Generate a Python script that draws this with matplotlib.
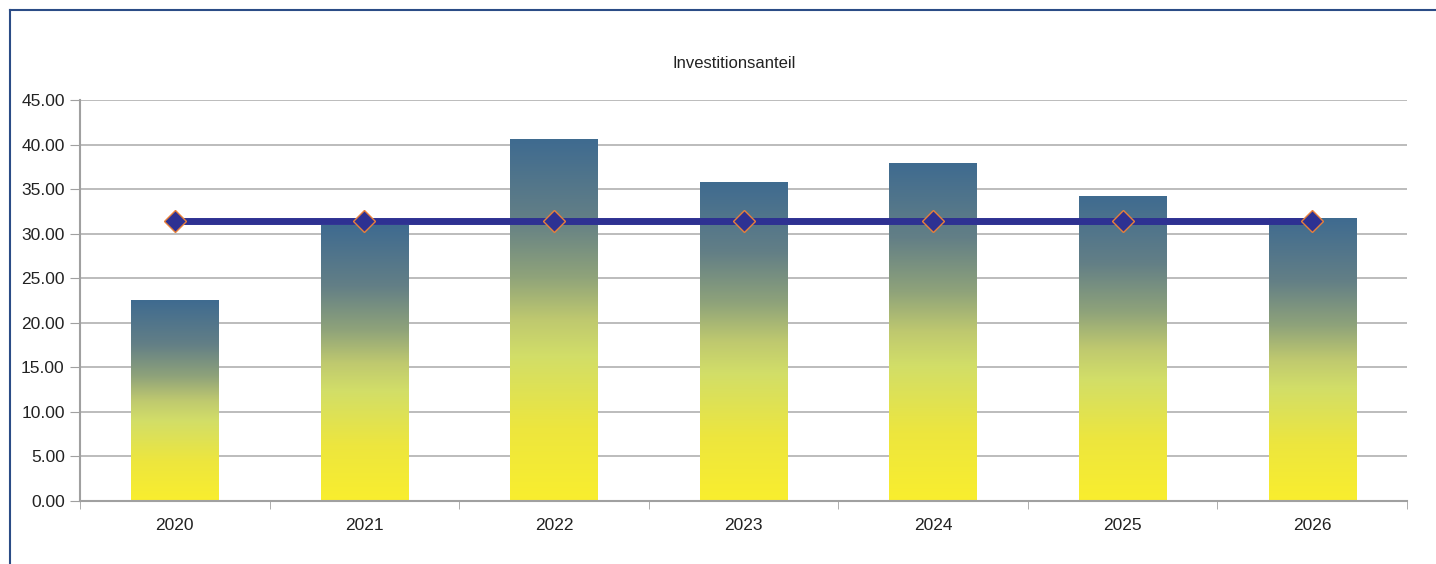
import numpy as np
import matplotlib
matplotlib.use("Agg")
import matplotlib.pyplot as plt
from matplotlib.colors import LinearSegmentedColormap
from matplotlib.lines import Line2D

plt.rcParams['font.family'] = ['Liberation Sans', 'DejaVu Sans']

years = ['2020', '2021', '2022', '2023', '2024', '2025', '2026']
anteil = [22.45, 30.95, 40.62, 35.70, 37.93, 34.12, 31.65]
mittel = [31.42] * 7
title = 'Investitionsanteil'

# gradient from bar bottom (yellow) to bar top (steel blue)
grad = LinearSegmentedColormap.from_list('bar_grad', [
    (0.0, '#f9ee2e'),
    (0.2, '#ede63e'),
    (0.4, '#d2de68'),
    (0.5, '#bfc96f'),
    (0.62, '#8fa37a'),
    (0.78, '#637f86'),
    (1.0, '#3f6b90'),
])

fig = plt.figure(figsize=(14.36, 5.64), dpi=100)
ax = fig.add_axes([80 / 1436, 63 / 564, 1327 / 1436, 401 / 564])

x = np.arange(len(years))
bars = ax.bar(x, anteil, width=0.46, color='none', edgecolor='none', zorder=2)
g = np.linspace(0, 1, 256).reshape(-1, 1)
for b in bars:
    x0, y0 = b.get_x(), b.get_y()
    ax.imshow(g, cmap=grad, origin='lower', aspect='auto', interpolation='bicubic',
              extent=(x0, x0 + b.get_width(), y0, y0 + b.get_height()), zorder=2)

ax.plot(x, mittel, color='#2e3192', lw=5, zorder=3, solid_capstyle='butt')
ax.plot(x, mittel, ls='none', marker='D', ms=11, mfc='#2e3192', mec='#e8803a', mew=1.0, zorder=4)

ax.set_xlim(-0.5, len(years) - 0.5)
ax.set_ylim(0, 45)
ax.set_yticks(np.arange(0, 46, 5))
ax.set_yticklabels([f'{v:.2f}' for v in np.arange(0, 46, 5)], fontsize=12.5, color='#222222')
ax.set_xticks(x)
ax.set_xticklabels(years, fontsize=12.5, color='#222222')
ax.set_xticks(np.arange(-0.5, len(years)), minor=True)
ax.tick_params(axis='x', which='major', length=0, pad=12)
ax.tick_params(axis='x', which='minor', length=6, color='#a0a0a0', direction='out')
ax.tick_params(axis='y', length=7, color='#a0a0a0', pad=4)

ax.yaxis.grid(True, color='#b0b0b0', lw=1.2, zorder=0)
ax.set_axisbelow(True)
for s in ['top', 'right']:
    ax.spines[s].set_visible(False)
for s in ['left', 'bottom']:
    ax.spines[s].set_color('#a0a0a0')
    ax.spines[s].set_linewidth(1.5)

fig.text(734 / 1436, 1 - 64 / 564, title, ha='center', va='center', fontsize=12, color='#222222')

# outer frame (top and left edges visible)
fig.add_artist(Line2D([10 / 1436, 1], [1 - 10 / 564] * 2, color='#2b4c86', lw=1.5, transform=fig.transFigure))
fig.add_artist(Line2D([10 / 1436] * 2, [0, 1 - 10 / 564], color='#2b4c86', lw=1.5, transform=fig.transFigure))

fig.savefig('out.png', dpi=100)
